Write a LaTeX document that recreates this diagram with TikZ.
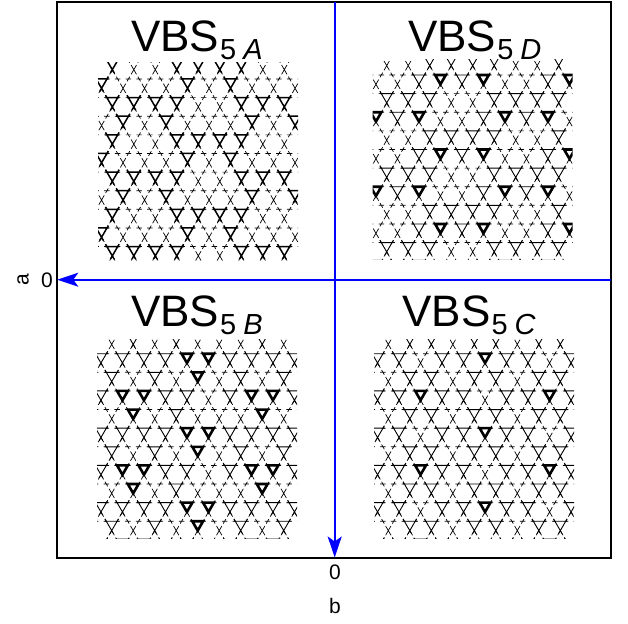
\documentclass[tikz,border=0pt]{standalone}
\usepackage{fontspec}
\setmainfont{Liberation Sans}
\usetikzlibrary{calc, positioning, arrows.meta}

\tikzset{
  bondstub/.style={line width=0.7pt, black},
  bondfull/.style={line width=#1, black, line join=miter},
  axisline/.style={line width=1.8pt, blue, -{Stealth[length=21pt,width=14pt,inset=5pt]}},
  paneltitle/.style={anchor=base west, inner sep=0pt, font=\fontsize{44}{44}\selectfont},
  ticklabel/.style={inner sep=0pt, font=\fontsize{21}{21}\selectfont},
}

% triangle whose legs run a little past its corners
\newcommand{\openbond}[1]{
  \draw[bondfull=#1] (-7,0) -- (7,0)
    (-6.8,-2.4) -- (1.85,12.5) (6.8,-2.4) -- (-1.85,12.5);
}

% one kagome cell: down triangle on the line, up triangle below its apex
\newcommand{\bondcell}[3]{
  \begin{scope}[shift={(#1,#2)}]
    \ifcase#3\relax
      \draw[bondstub] (0,9.31) -- ++(-2.69,-4.66) (0,9.31) -- ++(2.69,-4.66)
        (-5.375,0) -- ++(1.35,2.33) (5.375,0) -- ++(-1.35,2.33)
        (-5.375,0) -- ++(2.7,0) (5.375,0) -- ++(-2.7,0);
    \or
      \openbond{0.9pt}
    \or
      \draw[bondfull=2.6pt] (-5.375,0) -- (5.375,0) -- (0,9.31) -- cycle;
    \or
      \openbond{1.5pt}
    \fi
    % up triangle stays weak everywhere
    \draw[bondstub] (0,9.31) -- ++(-2.69,4.66) (0,9.31) -- ++(2.69,4.66)
      (-5.375,18.62) -- ++(1.35,-2.33) (5.375,18.62) -- ++(-1.35,-2.33)
      (-5.375,18.62) -- ++(2.7,0) (5.375,18.62) -- ++(-2.7,0);
  \end{scope}
}

\newcommand{\bondrow}[3]{
  \foreach \c [count=\k from 0] in {#3} {
    \pgfmathsetmacro{\xx}{#1+\k*21.5}
    \bondcell{\xx}{#2}{\c}
  }
}

% args: x of top crosses, y of first line, clip corner, four row patterns, cut-off top row
\newcommand{\latticepanel}[9]{
  \begin{scope}
    \clip (#3,#4) rectangle ++(200,199);
    \bondrow{#1}{#2-18.62}{#9}
    \foreach \n in {0,1,2} {
      \pgfmathsetmacro{\ya}{#2+\n*74.48}
      \pgfmathsetmacro{\yb}{\ya+18.62}
      \pgfmathsetmacro{\yc}{\ya+37.24}
      \pgfmathsetmacro{\yd}{\ya+55.86}
      \bondrow{#1-10.75}{\ya}{#5}
      \bondrow{#1}{\yb}{#6}
      \bondrow{#1-10.75}{\yc}{#7}
      \bondrow{#1}{\yd}{#8}
    }
  \end{scope}
}

\begin{document}
\begin{tikzpicture}[x=1pt,y=-1pt]
\useasboundingbox (0,0) rectangle (628,623);

% Four lattices
\latticepanel{112.3}{79}{98}{62.7}
  {3,0,0,0,3,0,3,0,0,0}{3,3,3,3,0,0,3,3,3}{0,3,0,3,0,0,0,3,0,3}{3,0,0,3,3,3,3,0,0}{3,0,0,3,3,3,3,0,0}
\latticepanel{386.7}{75}{372.7}{60}
  {0,0,1,2,1,2,0,0,1,2}{1,1,1,0,0,1,1,1,1}{2,1,2,0,0,1,2,1,2,0}{0,0,1,1,1,1,0,0,1}{0,0,1,1,1,1,0,0,1}
\latticepanel{111.7}{353.7}{97}{339}
  {1,1,1,1,2,2,1,1,1,1}{1,0,1,0,2,0,1,0,1}{1,2,2,1,1,0,1,2,2,1}{0,2,0,1,0,0,0,2,0}{0,1,0,1,0,0,0,1,0}
\latticepanel{388.3}{353.7}{374}{339}
  {1,1,0,1,1,2,1,1,0,1}{0,1,1,0,1,1,0,1,1}{1,1,2,1,1,0,1,1,2,1}{0,1,1,0,1,1,0,1,1}{0,1,1,0,1,1,0,1,1}

% Frame
\coordinate (topleft) at (57.3,2);
\coordinate (bottomright) at (611,557.5);
\coordinate (azero) at (57.3,279.7);
\coordinate (aend) at (611,279.7);
\coordinate (bzero) at (334.7,557.5);
\coordinate (bend) at (334.7,2);
\draw[line width=2pt] (topleft) rectangle (bottomright);

% Axes
\draw[axisline] (aend) -- (azero);
\draw[axisline] (bend) -- (bzero);

% Labels
\node[ticklabel] (azerolabel) at (47,280) {0};
\node[ticklabel, rotate=90] (aname) at (23,280) {a};
\node[ticklabel] (bzerolabel) at (335,572) {0};
\node[ticklabel] (bname) at (335,606) {b};

\newcommand{\subpart}[1]{\raisebox{-8pt}{\fontsize{29}{29}\selectfont\hspace{1pt}5\hspace{7pt}\textit{#1}}}
\node[paneltitle] (titleA) at (131,51.7) {VBS\subpart{A}};
\node[paneltitle] (titleD) at (408,51.7) {VBS\subpart{D}};
\node[paneltitle] (titleB) at (131,326) {VBS\subpart{B}};
\node[paneltitle] (titleC) at (402.3,326) {VBS\subpart{C}};
\end{tikzpicture}
\end{document}
